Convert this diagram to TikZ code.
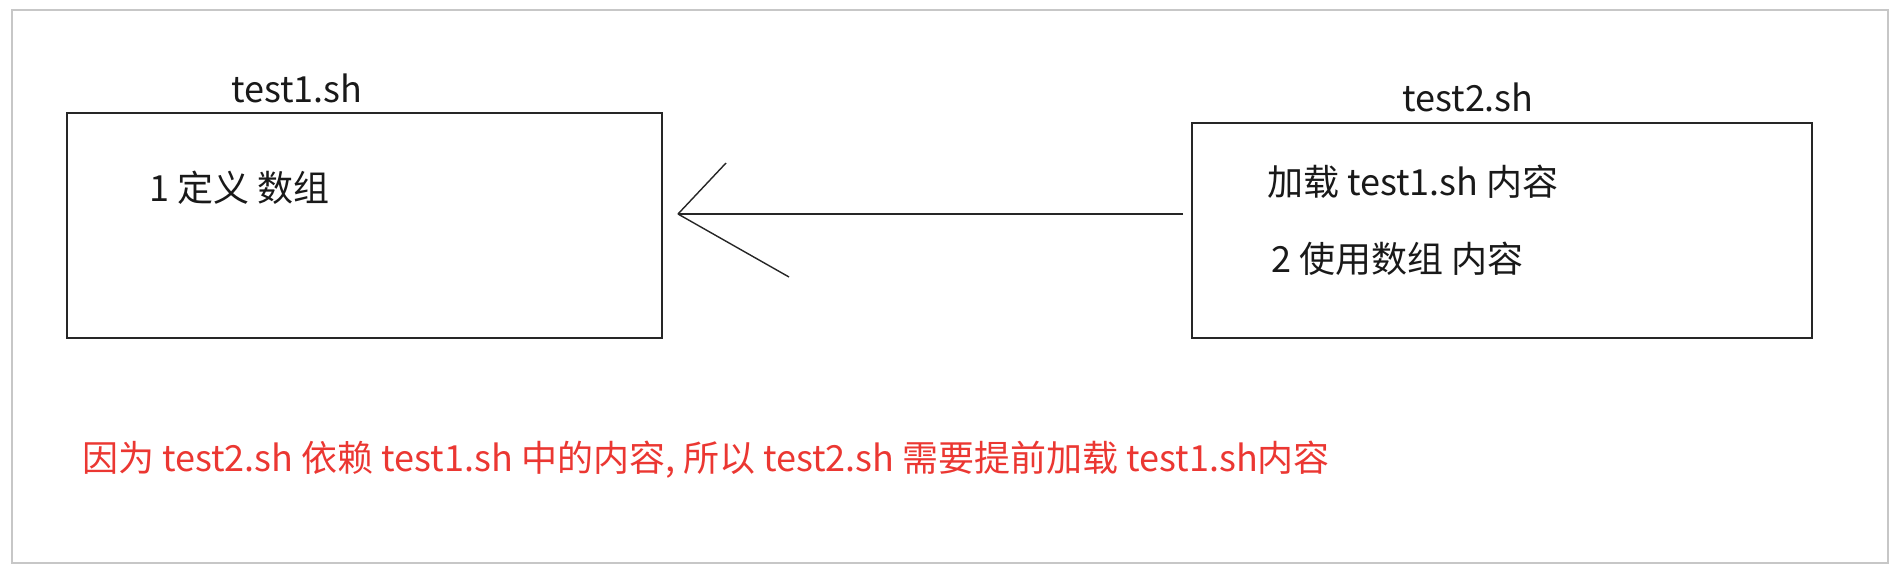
\documentclass[tikz,border=0pt]{standalone}
\usepackage{fontspec}
\setmainfont{Noto Sans CJK SC}
\begin{document}
\begin{tikzpicture}[x=1pt,y=-1pt,
  filebox/.style={draw=black!85,line width=1.8pt,minimum width=#1,inner sep=0pt,rectangle},
  lbl/.style={font=\fontsize{36}{42}\selectfont,inner sep=0pt,text=black!90},
  note/.style={font=\fontsize{36}{42}\selectfont,inner sep=0pt,text={rgb,255:red,235;green,55;blue,50}},
  conn/.style={draw=black!85,line width=1.4pt}]
\useasboundingbox (0,0) rectangle (1898,568);
\draw[draw=black!22,line width=2pt] (12,10) rectangle (1888,563);
\node[filebox=595pt,minimum height=225pt] (b1) at (364.5,225.5) {};
\node[filebox=620pt,minimum height=215pt] (b2) at (1502,230.5) {};
\node[lbl] (t1) at (297,88) {test1.sh};
\node[lbl] (t2) at (1468,97) {test2.sh};
\node[lbl,anchor=west] (d1) at (149,188) {1 定义 数组};
\node[lbl,anchor=west] (d2) at (1267,182) {加载 test1.sh 内容};
\node[lbl,anchor=west] (d3) at (1271,259) {2 使用数组 内容};
\node[note,anchor=west] (n) at (82,460) {因为 test2.sh 依赖 test1.sh 中的内容, 所以 test2.sh 需要提前加载 test1.sh内容};
\coordinate (tip) at (678,214);
\coordinate (tail) at (1183,214);
\coordinate (bu) at (726,163);
\coordinate (bl) at (789,277);
\draw[conn] (tail) -- (tip);
\draw[conn] (tip) -- (bu);
\draw[conn] (tip) -- (bl);
\end{tikzpicture}
\end{document}
